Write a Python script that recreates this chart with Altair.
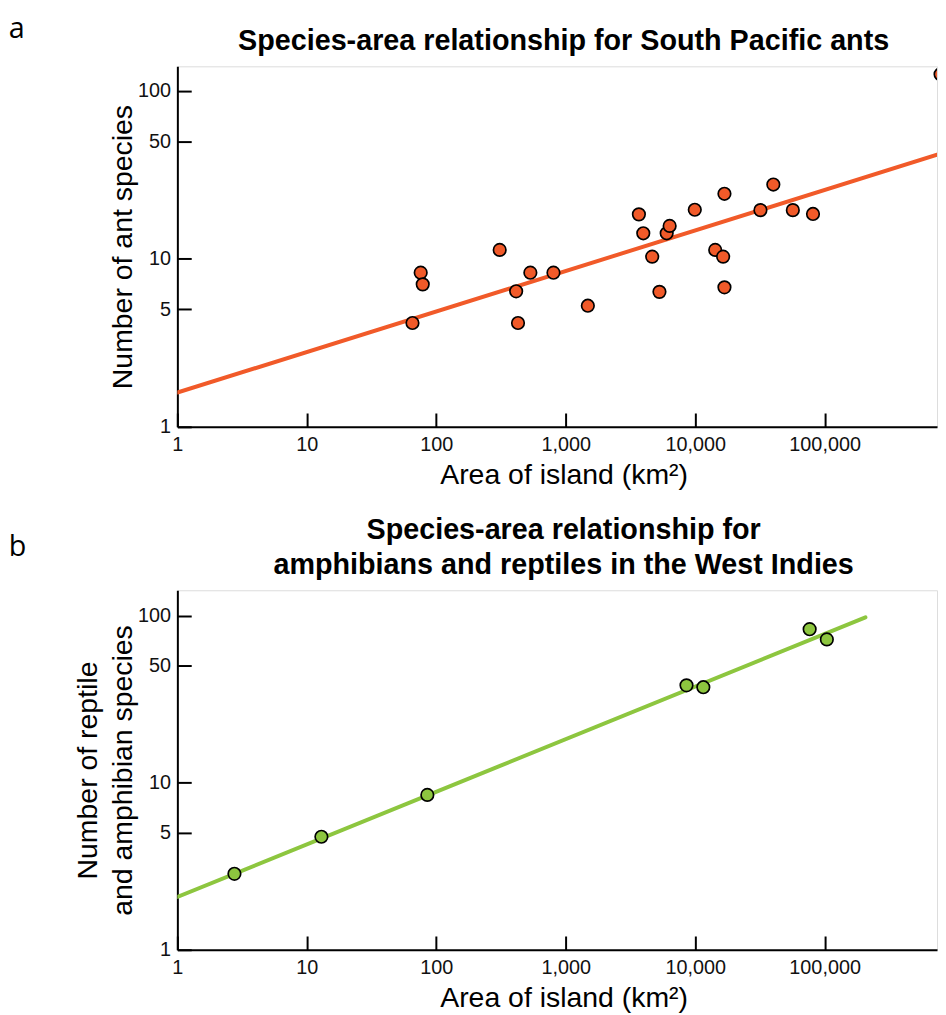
import altair as alt
import pandas as pd

# ---------------- data ----------------
# Panel a: South Pacific ants
ant_area = [65.5, 75.8, 78.6, 309, 414, 428, 533, 804, 1482, 3675, 3972, 4656,
            5296, 6025, 6350, 9930, 14280, 16440, 16830, 16830, 31920, 40150,
            56800, 81300, 786000]
ant_species = [4.15, 8.27, 7.05, 11.3, 6.41, 4.15, 8.27, 8.27, 5.26, 18.4, 14.2,
               10.3, 6.36, 14.2, 15.7, 19.6, 11.3, 10.3, 6.77, 24.4, 19.5, 27.7,
               19.5, 18.5, 125.6]
ant_fit_area = [1, 750000]
ant_fit_species = [1.60, 41.8]

# Panel b: amphibians and reptiles, West Indies
herp_area = [2.76, 12.96, 85.3, 8570, 11560, 76600, 104000]
herp_species = [2.85, 4.75, 8.45, 38.3, 37.3, 83.0, 72.1]
herp_fit_area = [1, 206600]
herp_fit_species = [2.07, 97.8]

x_label_values = [1, 10, 100, 1000, 10000, 100000]
y_label_values = [1, 5, 10, 50, 100]

panel_labels = ["a", "b"]
titles = [
    "Species-area relationship for South Pacific ants",
    "Species-area relationship for\namphibians and reptiles in the West Indies",
]
x_title = "Area of island (km\u00b2)"
y_titles = ["Number of ant species", ["Number of reptile", "and amphibian species"]]

ORANGE = "#F15A29"
GREEN = "#8DC63F"
FONT = "Liberation Sans"
WIDTH = 767
X_MAX = 738000
TICK_PX = 14  # inward tick length


def panel(i, area, species, fit_area, fit_species, color, y_max, height,
          ytitle_x, title_y, label_y, xtitle_y):
    xs = alt.Scale(type="log", domain=[1, X_MAX], nice=False)
    ys = alt.Scale(type="log", domain=[1, y_max], nice=False)
    # inward ticks are drawn as short dashed grid segments at the axis end
    xa = alt.Axis(orient="bottom", values=x_label_values, format=",",
                  ticks=False, tickSize=0,
                  grid=True, gridColor="black", gridWidth=2, gridOpacity=1,
                  gridCap="butt", gridDash=[0, height - TICK_PX, TICK_PX, 3000],
                  domainColor="black", domainWidth=2,
                  labelFont=FONT, labelFontSize=20, labelColor="#111111",
                  labelPadding=8, labelFlush=False, labelOverlap=False,
                  title=x_title, titleFont=FONT, titleFontSize=28.7,
                  titleFontWeight="normal", titleColor="black",
                  titleX=390, titleY=xtitle_y, titleBaseline="alphabetic",
                  titleAlign="center")
    ya = alt.Axis(orient="left", values=y_label_values, format="d",
                  ticks=False, tickSize=0,
                  grid=True, gridColor="black", gridWidth=2, gridOpacity=1,
                  gridCap="butt", gridDash=[TICK_PX, 3000],
                  domainColor="black", domainWidth=2,
                  labelFont=FONT, labelFontSize=20, labelColor="#111111",
                  labelPadding=7, labelFlush=False, labelOverlap=False,
                  title=y_titles[i], titleFont=FONT, titleFontSize=28.7,
                  titleFontWeight="normal", titleColor="black",
                  titleAngle=270, titleX=ytitle_x, titleY=height / 2,
                  titleBaseline="alphabetic", titleAlign="center",
                  titleLineHeight=35)

    pts_df = pd.DataFrame({"area": area, "species": species})
    fit_df = pd.DataFrame({"area": fit_area, "species": fit_species})

    line = alt.Chart(fit_df).mark_line(
        color=color, strokeWidth=4, strokeCap="round", clip=True).encode(
        x=alt.X("area:Q", scale=xs, axis=xa),
        y=alt.Y("species:Q", scale=ys, axis=ya))
    pts = alt.Chart(pts_df).mark_circle(
        fill=color, opacity=1, stroke="black", strokeWidth=1.7, size=160,
        clip=True).encode(
        x=alt.X("area:Q", scale=xs, axis=None),
        y=alt.Y("species:Q", scale=ys, axis=None))
    lab = alt.Chart(pd.DataFrame({"t": [panel_labels[i]]})).mark_text(
        align="left", baseline="alphabetic", font="Open Sans", fontSize=29,
        color="black").encode(text="t:N", x=alt.value(-170.3), y=alt.value(label_y))
    ttl = alt.Chart(pd.DataFrame({"t": [titles[i]]})).mark_text(
        align="center", baseline="alphabetic", font=FONT, fontSize=29,
        fontWeight="bold", lineBreak="\n", lineHeight=34.7, color="black").encode(
        text="t:N", x=alt.value(390), y=alt.value(title_y))
    return alt.layer(line, pts, lab, ttl).resolve_axis(
        x="independent", y="independent").properties(width=WIDTH, height=height)


pa = panel(0, ant_area, ant_species, ant_fit_area, ant_fit_species, ORANGE,
           140, 364, -46.3, -16, -28.5, 57)
pb = panel(1, herp_area, herp_species, herp_fit_area, herp_fit_species, GREEN,
           142, 363, -81.3, -51.3, -34.3, 57)

chart = alt.vconcat(pa, pb, spacing=26).properties(
    padding={"top": 2, "left": 0, "right": 0, "bottom": 0}).configure_view(
    strokeWidth=0).configure(font=FONT)

chart.save("out.html", embed_options={"renderer": "svg", "actions": False})
